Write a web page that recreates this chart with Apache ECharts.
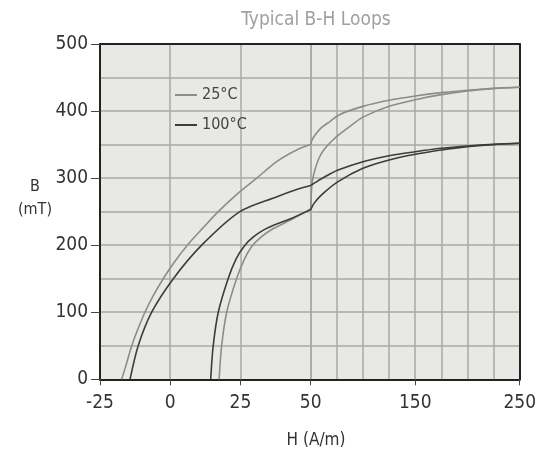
<!DOCTYPE html>
<html><head><meta charset="utf-8">
<script src="https://cdn.jsdelivr.net/npm/echarts@6/dist/echarts.min.js"></script>
<style>html,body{margin:0;padding:0;background:#fff}#c{width:539px;height:450px}</style>
</head><body><div id="c"></div>
<script>
// H (A/m), B (mT) pairs
const loop25Upper = [[-17.3,0],[-15.8,20],[-13.7,50],[-11.5,75],[-9,100],[-6,125],[-2.5,150],[1.5,175],[6.1,200],[11.5,225],[17.1,250],[23.5,275],[30.8,300],[38,325],[45,342],[50,350],
  [51,356],[54,364],[60,375],[68,384],[78,395],[100,407],[125,416],[150,422.5],[175,427.5],[200,431],[225,434],[250,435.5]];
const loop25Lower = [[17.4,0],[18.3,50],[20.1,100],[23.6,150],[26.5,180],[29,198],[32,211],[36,223],[43,238],[50,254],
  [50.5,275],[51.5,295],[54,312],[58,330],[63,343],[70,355],[78,366],[90,380],[100,391],[125,407],[150,417],[175,424.5],[200,430],[225,433.5],[250,435.5]];
const loop100Upper = [[-14.3,0],[-11.4,50],[-6.6,100],[1.1,150],[11.2,200],[24.8,250],[37.8,272],[45,283],[50,289],
  [55,294],[63.6,302],[76.2,312],[100,324.5],[125,333.4],[150,339.4],[175,344.5],[200,348],[225,350.5],[250,352]];
const loop100Lower = [[14.4,0],[15.3,50],[17.1,100],[20.6,150],[23.5,180],[26.6,200],[29.5,212],[33,222],[37,230],[42.6,239],[50,253],
  [53,262],[60.4,275],[76.2,294.7],[100,314.6],[125,327],[150,335.5],[175,342],[200,347],[225,350],[250,352]];
const xTicksLeft = [-25, 0, 25, 50];
const xTicksRight = [150, 250];
const yTicks = [0, 100, 200, 300, 400, 500];
const legendNames = ['25°C', '100°C'];

const FONT = "'Liberation Sans Narrow','DejaVu Sans Condensed',sans-serif";
const C25 = '#8c8c8c', C100 = '#3c3c3c';
const BG = '#e8e8e4', GRIDC = '#a9a9a6', FRAME = '#222';

function leftPart(d){ return d.filter(p => p[0] <= 50); }
function rightPart(d){ return d.filter(p => p[0] >= 50); }

function mkSeries(name, data, color, gi){
  return {type:'line', name:name, data:data, xAxisIndex:gi, yAxisIndex:gi,
    showSymbol:false, symbol:'none', smooth:0.3,
    lineStyle:{color:color, width:1.6}, itemStyle:{color:color}, z:5, silent:true};
}

const axisLabelStyle = {color:'#333', fontFamily:FONT, fontSize:19};
const gridLine = {show:true, interval:0, lineStyle:{color:GRIDC, width:1.5}};
const frameLine = {show:true, onZero:false, lineStyle:{color:FRAME, width:2}};
const hiddenLine = {show:false, onZero:false};
const none = {show:false};

const chart = echarts.init(document.getElementById('c'), null, {renderer:'canvas'});
chart.setOption({
  animation:false,
  backgroundColor:'#fff',
  title:[
    {text:'Typical B-H Loops', left:311, textAlign:'center', top:6, textStyle:{color:'#a0a0a0', fontFamily:FONT, fontSize:19, fontWeight:'normal'}},
    {text:'B\n(mT)', left:30, textAlign:'center', top:170, textStyle:{color:'#333', fontFamily:FONT, fontSize:16, fontWeight:'normal', lineHeight:23}},
    {text:'H (A/m)', left:311, textAlign:'center', top:427, textStyle:{color:'#333', fontFamily:FONT, fontSize:17, fontWeight:'normal'}}
  ],
  legend:{data:legendNames, orient:'vertical', left:175, top:86, padding:0, icon:'rect', itemWidth:22, itemHeight:2, itemGap:12,
    textStyle:{color:'#444', fontFamily:FONT, fontSize:16, lineHeight:18}, selectedMode:false},
  grid:[
    {left:100, top:44, width:210.7, bottom:70.7, show:true, backgroundColor:BG, borderWidth:0},
    {left:310.7, top:44, right:17.3, bottom:70.7, show:true, backgroundColor:BG, borderWidth:0}
  ],
  xAxis:[
    // grid lines + frame
    {type:'value', gridIndex:0, position:'bottom', min:-25, max:50, interval:25,
      axisLine:frameLine, axisTick:none, axisLabel:none, splitLine:gridLine},
    {type:'value', gridIndex:1, position:'bottom', min:50, max:250, interval:25,
      axisLine:frameLine, axisTick:none, axisLabel:none, splitLine:gridLine},
    {type:'value', gridIndex:0, position:'top', min:-25, max:50,
      axisLine:frameLine, axisTick:none, axisLabel:none, splitLine:none},
    {type:'value', gridIndex:1, position:'top', min:50, max:250,
      axisLine:frameLine, axisTick:none, axisLabel:none, splitLine:none},
    // ticks + labels
    {type:'value', gridIndex:0, position:'bottom', min:-25, max:50, interval:25,
      axisLine:hiddenLine, splitLine:none,
      axisTick:{show:true, length:6, lineStyle:{color:'#444'}, customValues:xTicksLeft},
      axisLabel:{...axisLabelStyle, margin:14, customValues:xTicksLeft}},
    {type:'value', gridIndex:1, position:'bottom', min:50, max:250, interval:25,
      axisLine:hiddenLine, splitLine:none,
      axisTick:{show:true, length:6, lineStyle:{color:'#444'}, customValues:xTicksRight},
      axisLabel:{...axisLabelStyle, margin:14, customValues:xTicksRight}}
  ],
  yAxis:[
    {type:'value', gridIndex:0, position:'left', min:0, max:500, interval:50,
      axisLine:frameLine, axisTick:none, axisLabel:none, splitLine:gridLine},
    {type:'value', gridIndex:1, position:'right', min:0, max:500, interval:50,
      axisLine:frameLine, axisTick:none, axisLabel:none, splitLine:gridLine},
    {type:'value', gridIndex:0, position:'left', min:0, max:500, interval:50,
      axisLine:hiddenLine, splitLine:none,
      axisTick:{show:true, length:9, lineStyle:{color:'#444'}, customValues:yTicks},
      axisLabel:{...axisLabelStyle, margin:12, customValues:yTicks}}
  ],
  series:[
    mkSeries(legendNames[0], leftPart(loop25Upper), C25, 0),
    mkSeries(legendNames[0], rightPart(loop25Upper), C25, 1),
    mkSeries(legendNames[0], leftPart(loop25Lower), C25, 0),
    mkSeries(legendNames[0], rightPart(loop25Lower), C25, 1),
    mkSeries(legendNames[1], leftPart(loop100Upper), C100, 0),
    mkSeries(legendNames[1], rightPart(loop100Upper), C100, 1),
    mkSeries(legendNames[1], leftPart(loop100Lower), C100, 0),
    mkSeries(legendNames[1], rightPart(loop100Lower), C100, 1)
  ]
});
</script></body></html>
